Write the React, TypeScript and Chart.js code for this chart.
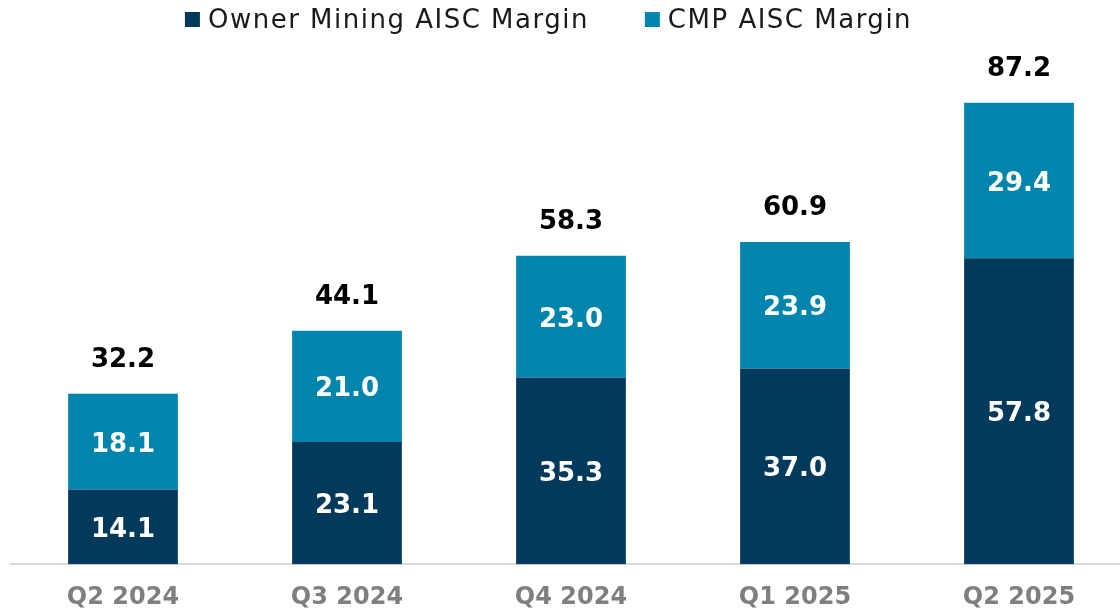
import { useEffect, useRef } from "react";
import { Chart, registerables } from "chart.js";

Chart.register(...registerables);

const categories = ["Q2 2024", "Q3 2024", "Q4 2024", "Q1 2025", "Q2 2025"];
const ownerMining = [14.1, 23.1, 35.3, 37.0, 57.8];
const cmpMargin = [18.1, 21.0, 23.0, 23.9, 29.4];
const seriesNames = ["Owner Mining AISC Margin", "CMP AISC Margin"];
const seriesColors = ["#033A5B", "#0185AD"];

const FONT = '"DejaVu Sans", sans-serif';

const labelsPlugin = {
  id: "stackLabels",
  afterDatasetsDraw(chart: any) {
    const ctx = chart.ctx;
    ctx.save();
    ctx.textAlign = "center";
    ctx.textBaseline = "alphabetic";
    const size = 26;
    const cap = size * 0.73;
    ctx.font = `bold ${size}px ${FONT}`;
    chart.data.datasets.forEach((ds: any, di: number) => {
      const meta = chart.getDatasetMeta(di);
      meta.data.forEach((el: any, i: number) => {
        const v = ds.data[i] as number;
        const mid = (el.y + el.base) / 2;
        ctx.fillStyle = "#ffffff";
        ctx.fillText(v.toFixed(1), el.x, mid + cap / 2 + 0.5);
      });
    });
    const lastMeta = chart.getDatasetMeta(chart.data.datasets.length - 1);
    lastMeta.data.forEach((el: any, i: number) => {
      const total = chart.data.datasets.reduce((s: number, ds: any) => s + (ds.data[i] as number), 0);
      ctx.fillStyle = "#000000";
      ctx.fillText(total.toFixed(1), el.x, el.y - 26.5);
    });
    ctx.restore();
  },
};

const legendPlugin = {
  id: "customLegend",
  afterDraw(chart: any) {
    const ctx = chart.ctx;
    ctx.save();
    ctx.font = `26px ${FONT}`;
    (ctx as any).letterSpacing = "1.5px";
    ctx.textBaseline = "alphabetic";
    ctx.textAlign = "left";
    const box = 15;
    const gapBox = 8;
    const gapItem = 56;
    const items = chart.data.datasets.map((ds: any) => ({
      text: ds.label as string,
      color: ds.backgroundColor as string,
      w: ctx.measureText(ds.label).width,
    }));
    const total =
      items.reduce((s: number, it: any) => s + box + gapBox + it.w, 0) + gapItem * (items.length - 1);
    let x = 548.5 - total / 2;
    items.forEach((it: any) => {
      ctx.fillStyle = it.color;
      ctx.fillRect(x, 12, box, box);
      x += box + gapBox;
      ctx.fillStyle = "#1a1a1a";
      ctx.fillText(it.text, x, 28);
      x += it.w + gapItem;
    });
    ctx.restore();
  },
};

export default function App() {
  const ref = useRef<HTMLCanvasElement | null>(null);

  useEffect(() => {
    document.body.style.margin = "0";
    if (!ref.current) return;
    const chart = new Chart(ref.current, {
      type: "bar",
      data: {
        labels: categories,
        datasets: [
          {
            label: seriesNames[0],
            data: ownerMining,
            backgroundColor: seriesColors[0],
            borderWidth: 0,
          },
          {
            label: seriesNames[1],
            data: cmpMargin,
            backgroundColor: seriesColors[1],
            borderWidth: 0,
          },
        ],
      },
      options: {
        responsive: false,
        animation: false,
        events: [],
        layout: { padding: { left: 11, right: 0, top: 35, bottom: 2 } },
        datasets: {
          bar: { categoryPercentage: 1, barPercentage: 0.49 },
        },
        plugins: {
          legend: { display: false },
          tooltip: { enabled: false },
          title: { display: false },
        },
        scales: {
          x: {
            stacked: true,
            grid: { display: false, drawTicks: false },
            border: { display: true, color: "#d9d9d9", width: 2 },
            ticks: {
              color: "#7f7f7f",
              padding: 19,
              font: { family: FONT, size: 24, weight: "bold" },
            },
          },
          y: {
            stacked: true,
            display: false,
            min: 0,
            max: 100,
          },
        },
      },
      plugins: [labelsPlugin, legendPlugin],
    });
    return () => chart.destroy();
  }, []);

  return (
    <div style={{ position: "relative", width: 1120, height: 610, overflow: "hidden", background: "#ffffff" }}>
      <canvas ref={ref} width={1131} height={633} style={{ display: "block", width: 1131, height: 633 }} />
    </div>
  );
}
